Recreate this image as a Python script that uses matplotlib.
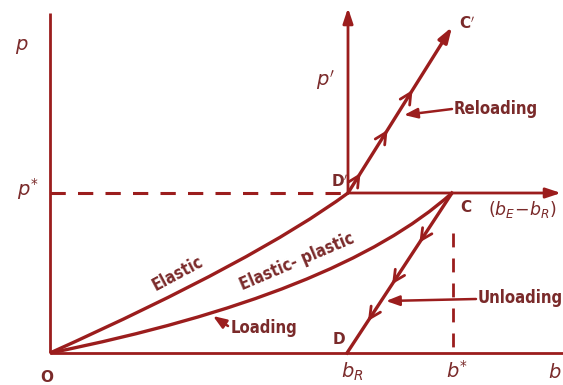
import numpy as np
import matplotlib
matplotlib.use("Agg")
import matplotlib.pyplot as plt
from matplotlib.path import Path
from matplotlib.patches import PathPatch

# Key points of the load-deflection diagram (drawing units, y grows downward)
origin = (50, 353)
p_star_level = 193
point_C = (452, 193)
point_D = (347, 353)
point_D_prime = (348, 193)
point_C_prime = (452, 27)
b_star = 453
b_star_top = 233

# Bezier control points for the two loading curves
elastic_ctrl = (257, 260)
elastic_plastic_ctrl = (338, 295)

# Fractions along unloading / reloading lines where direction chevrons sit
unload_marks = [0.31, 0.57, 0.80]
reload_marks = [0.12, 0.38, 0.62]

LINE = "#9b1d1d"
TEXT = "#7a2a2a"

fig = plt.figure(figsize=(5.63, 3.85), dpi=100)
ax = fig.add_axes([0, 0, 1, 1])
ax.set_xlim(0, 563)
ax.set_ylim(385, 0)
ax.axis("off")

lw_axis = 2.0
lw_curve = 2.4

# main axes
ax.plot([origin[0], origin[0]], [origin[1], 13], color=LINE, lw=lw_axis, solid_capstyle="butt")
ax.plot([origin[0], 563], [origin[1], origin[1]], color=LINE, lw=lw_axis, solid_capstyle="butt")

# secondary axes at D'
ax.annotate("", xy=(point_D_prime[0], 8), xytext=point_D_prime,
            arrowprops=dict(arrowstyle="-|>,head_length=0.9,head_width=0.3", color=LINE, lw=lw_axis,
                            shrinkA=0, shrinkB=0))
ax.annotate("", xy=(561, p_star_level), xytext=point_D_prime,
            arrowprops=dict(arrowstyle="-|>,head_length=0.9,head_width=0.3", color=LINE, lw=lw_axis,
                            shrinkA=0, shrinkB=0))

# dashed reference lines
ax.plot([origin[0], point_D_prime[0]], [p_star_level, p_star_level], color=LINE, lw=2.2,
        dashes=(5, 4))
ax.plot([b_star, b_star], [b_star_top, origin[1]], color=LINE, lw=2.0, dashes=(5, 4))


def bezier(p0, c, p1):
    path = Path([p0, c, p1], [Path.MOVETO, Path.CURVE3, Path.CURVE3])
    ax.add_patch(PathPatch(path, facecolor="none", edgecolor=LINE, lw=lw_curve))


bezier(origin, elastic_ctrl, point_D_prime)
bezier(origin, elastic_plastic_ctrl, point_C)

# unloading and reloading lines
ax.plot([point_C[0], point_D[0]], [point_C[1], point_D[1]], color=LINE, lw=lw_curve)
ax.annotate("", xy=point_C_prime, xytext=point_D_prime,
            arrowprops=dict(arrowstyle="-|>,head_length=0.9,head_width=0.3", color=LINE, lw=lw_curve,
                            shrinkA=0, shrinkB=0))


def chevrons(p0, p1, marks):
    p0 = np.array(p0, float)
    p1 = np.array(p1, float)
    d = (p1 - p0) / np.linalg.norm(p1 - p0)
    for f in marks:
        tip = p0 + f * (p1 - p0)
        ax.annotate("", xy=tip, xytext=tip - 6 * d,
                    arrowprops=dict(arrowstyle="->,head_length=0.8,head_width=0.4", color=LINE,
                                    lw=2.0, shrinkA=0, shrinkB=0))


chevrons(point_C, point_D, unload_marks)
chevrons(point_D_prime, point_C_prime, reload_marks)

# pointer arrows for labels
pointer = dict(arrowstyle="-|>,head_length=0.8,head_width=0.3", color=LINE, lw=1.8,
               shrinkA=0, shrinkB=0)
ax.annotate("", xy=(404, 115), xytext=(452, 109), arrowprops=pointer)
ax.annotate("", xy=(386, 301), xytext=(476, 299), arrowprops=pointer)
ax.annotate("", xy=(213, 316), xytext=(228, 326), arrowprops=pointer)

fkw = dict(color=TEXT, fontfamily="DejaVu Sans", fontweight="bold", fontstretch="condensed")
ax.text(454, 109, "Reloading", fontsize=12, ha="left", va="center", **fkw)
ax.text(478, 298, "Unloading", fontsize=12, ha="left", va="center", **fkw)
ax.text(231, 328, "Loading", fontsize=12, ha="left", va="center", **fkw)
ax.text(178, 274, "Elastic", fontsize=12, ha="center", va="center", rotation=28, **fkw)
ax.text(297, 262, "Elastic- plastic", fontsize=12, ha="center", va="center", rotation=23, **fkw)

lkw = dict(color=TEXT, fontsize=11)
ax.text(47, 377, "O", ha="center", va="center", fontweight="bold", **lkw)
ax.text(466, 207, "C", ha="center", va="center", fontweight="bold", **lkw)
ax.text(467, 24, "C$'$", ha="center", va="center", fontweight="bold", **lkw)
ax.text(339, 339, "D", ha="center", va="center", fontweight="bold", **lkw)
ax.text(340, 182, "D$'$", ha="center", va="center", fontweight="bold", **lkw)

mkw = dict(color=TEXT, fontsize=14)
ax.text(22, 46, "$p$", ha="center", va="center", **mkw)
ax.text(28, 189, "$p^{*}$", ha="center", va="center", **mkw)
ax.text(325, 80, "$p'$", ha="center", va="center", **mkw)
ax.text(352, 372, "$b_R$", ha="center", va="center", **mkw)
ax.text(457, 371, "$b^{*}$", ha="center", va="center", **mkw)
ax.text(555, 373, "$b$", ha="center", va="center", **mkw)
ax.text(488, 210, r"$(b_E\!-\!b_R)$", ha="left", va="center", color=TEXT, fontsize=12.5)

fig.savefig("out.png", dpi=100, facecolor="white")
